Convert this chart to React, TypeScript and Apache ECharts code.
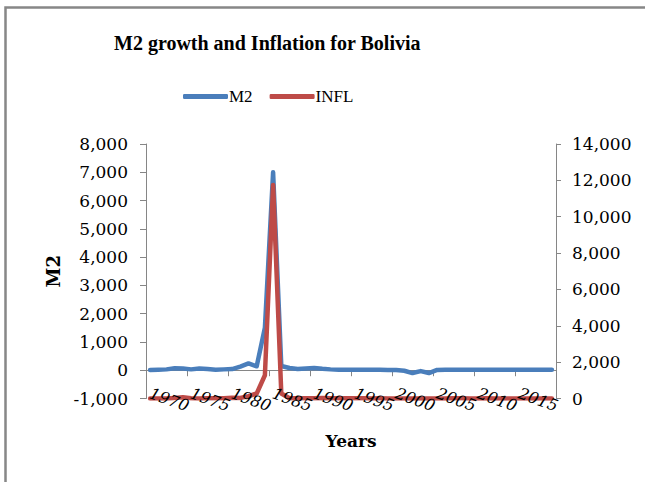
import React, { useEffect, useRef } from "react";
import * as echarts from "echarts";

const years = [
  "1970", "1971", "1972", "1973", "1974", "1975", "1976", "1977", "1978", "1979",
  "1980", "1981", "1982", "1983", "1984", "1985", "1986", "1987", "1988", "1989",
  "1990", "1991", "1992", "1993", "1994", "1995", "1996", "1997", "1998", "1999",
  "2000", "2001", "2002", "2003", "2004", "2005", "2006", "2007", "2008", "2009",
  "2010", "2011", "2012", "2013", "2014", "2015", "2016", "2017", "2018", "2019",
];

const m2Values = [
  10, 20, 30, 70, 60, 30, 60, 40, 20, 30,
  40, 130, 240, 140, 1500, 7000, 150, 80, 40, 60,
  80, 50, 30, 20, 20, 20, 20, 20, 20, 10,
  10, -20, -100, -30, -100, 10, 20, 20, 20, 20,
  20, 20, 20, 20, 20, 20, 20, 20, 20, 20,
];

const inflValues = [
  3.9, 3.7, 6.5, 31.5, 62.8, 8.0, 4.5, 8.1, 10.4, 19.7,
  47.2, 32.1, 123.5, 275.6, 1281.3, 11749.6, 276.3, 14.6, 16.0, 15.2,
  17.1, 21.4, 12.1, 8.5, 7.9, 10.2, 12.4, 4.7, 7.7, 2.2,
  4.6, 1.6, 0.9, 3.3, 4.4, 5.4, 4.3, 8.7, 14.0, 3.3,
  2.5, 9.8, 4.5, 5.7, 5.8, 4.1, 3.6, 2.8, 2.3, 1.8,
];

const leftAxis = { min: -1000, max: 8000, step: 1000 };
const rightAxis = { min: 0, max: 14000, step: 2000 };
const labelStep = 5;

const fmt = (v: number) => v.toLocaleString("en-US");

export default function App() {
  const ref = useRef<HTMLDivElement>(null);
  useEffect(() => {
    if (!ref.current) return;
    const chart = echarts.init(ref.current, undefined, { renderer: "svg" });
    const axisGray = "#868686";
    const labelFont = "DejaVu Serif";
    const yearLabel = (phase: number) => ({
      interval: (i: number) => i % (labelStep * 2) === phase,
      rotate: -20,
      margin: -6,
      fontFamily: labelFont,
      fontStyle: "italic",
      fontSize: 16,
      color: "#000",
    });
    const labelAxis = (phase: number, extra: any) => ({
      type: "category",
      data: years,
      position: "bottom",
      boundaryGap: true,
      z: 5,
      axisLine: { show: false, onZero: false },
      axisTick: { show: false },
      splitLine: { show: false },
      axisLabel: yearLabel(phase),
      ...extra,
    });
    chart.setOption({
      animation: false,
      backgroundColor: "#ffffff",
      graphic: [
        {
          type: "rect",
          silent: true,
          shape: { x: 5.5, y: 7.5, width: 700, height: 600 },
          style: { fill: "none", stroke: "#878787", lineWidth: 2.5 },
        },
      ],
      title: {
        text: "M2 growth and Inflation for Bolivia",
        left: 114,
        top: 33,
        padding: 0,
        textStyle: {
          fontFamily: "Liberation Serif",
          fontWeight: "bold",
          fontSize: 20,
          color: "#000",
        },
      },
      legend: {
        data: ["M2", "INFL"],
        left: 183,
        top: 88,
        padding: 0,
        icon: "roundRect",
        itemWidth: 45,
        itemHeight: 5,
        itemGap: 17,
        textStyle: { fontFamily: "Liberation Serif", fontSize: 17, color: "#000", padding: [0, 0, 0, -4] },
      },
      grid: { left: 146, right: 89, top: 144, height: 254.5 },
      xAxis: [
        {
          type: "category",
          data: years,
          boundaryGap: true,
          axisLine: { show: true, onZero: true, onZeroAxisIndex: 0, lineStyle: { color: axisGray, width: 1 } },
          axisTick: { show: true, interval: labelStep - 1, length: 6, lineStyle: { color: axisGray } },
          axisLabel: { show: false },
          splitLine: { show: false },
        },
        labelAxis(0, {
          name: "Years",
          nameLocation: "middle",
          nameGap: 34,
          nameTextStyle: { fontFamily: labelFont, fontWeight: "bold", fontSize: 17, color: "#000" },
        }),
        labelAxis(labelStep, {}),
      ],
      yAxis: [
        {
          type: "value",
          position: "left",
          min: leftAxis.min,
          max: leftAxis.max,
          interval: leftAxis.step,
          axisLine: { show: true, onZero: false, lineStyle: { color: axisGray } },
          axisTick: { show: true, length: 6, lineStyle: { color: axisGray } },
          splitLine: { show: false },
          axisLabel: { margin: 18, formatter: fmt, fontFamily: labelFont, fontSize: 17, color: "#000" },
          name: "M2",
          nameLocation: "middle",
          nameGap: 84,
          nameRotate: 90,
          nameTextStyle: { fontFamily: labelFont, fontWeight: "bold", fontSize: 18, color: "#000" },
        },
        {
          type: "value",
          position: "right",
          min: rightAxis.min,
          max: rightAxis.max,
          interval: rightAxis.step,
          axisLine: { show: true, onZero: false, lineStyle: { color: axisGray } },
          axisTick: { show: true, length: 5, lineStyle: { color: axisGray } },
          splitLine: { show: false },
          axisLabel: { margin: 16, formatter: fmt, fontFamily: labelFont, fontSize: 17, color: "#000" },
        },
      ],
      series: [
        {
          name: "M2",
          type: "line",
          xAxisIndex: 0,
          yAxisIndex: 0,
          data: m2Values,
          symbol: "none",
          color: "#4A7EBB",
          lineStyle: { width: 4.5, color: "#4A7EBB", cap: "round", join: "round" },
        },
        {
          name: "INFL",
          type: "line",
          xAxisIndex: 0,
          yAxisIndex: 1,
          data: inflValues,
          symbol: "none",
          color: "#BE4B48",
          lineStyle: { width: 4.5, color: "#BE4B48", cap: "round", join: "round" },
        },
      ],
    });
    return () => chart.dispose();
  }, []);
  return (
    <div
      ref={ref}
      style={{ position: "fixed", left: 0, top: 0, width: 645, height: 482, background: "#fff" }}
    />
  );
}
